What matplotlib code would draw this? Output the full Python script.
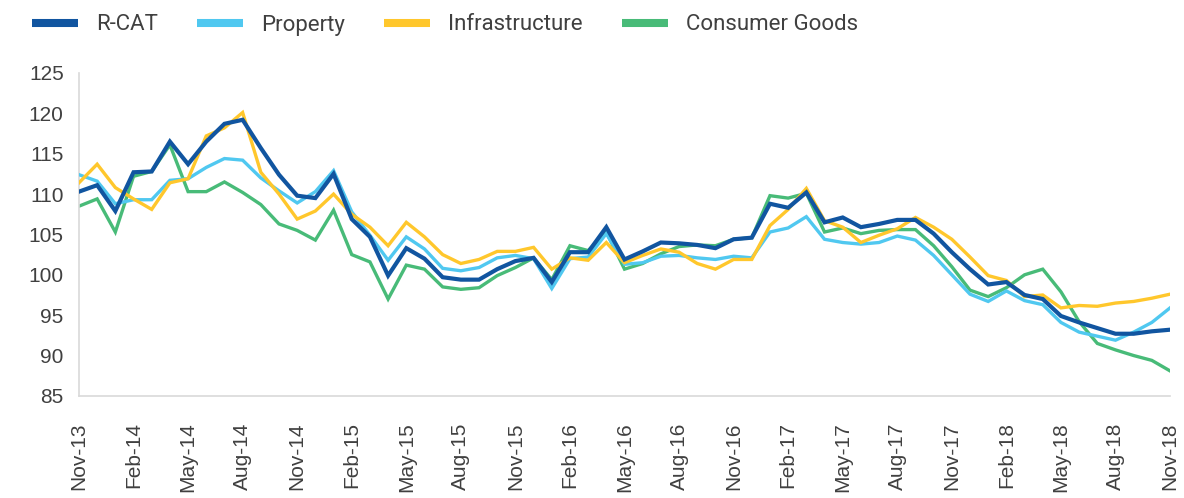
import matplotlib
matplotlib.use('Agg')
import matplotlib.pyplot as plt
import pandas as pd

# monthly index values, Nov-13 .. Nov-18
months = pd.date_range('2013-11-01', '2018-11-01', freq='MS').strftime('%b-%y').tolist()

r_cat = [110.3, 111.1, 107.9, 112.7, 112.8, 116.5, 113.7, 116.5, 118.7, 119.2,
         115.7, 112.4, 109.8, 109.5, 112.5, 106.9, 104.7, 99.9, 103.3, 102.0,
         99.7, 99.4, 99.4, 100.7, 101.7, 102.1, 99.1, 102.8, 102.8, 105.9,
         101.9, 102.9, 104.0, 103.9, 103.7, 103.3, 104.4, 104.6, 108.8, 108.3,
         110.2, 106.5, 107.1, 105.9, 106.3, 106.8, 106.8, 105.1, 102.8, 100.7,
         98.8, 99.1, 97.5, 97.0, 94.9, 94.1, 93.4, 92.7, 92.7, 93.0, 93.2]

prop = [112.4, 111.6, 108.8, 109.3, 109.3, 111.7, 111.9, 113.3, 114.4, 114.2,
        112.0, 110.4, 108.9, 110.3, 112.9, 107.8, 104.9, 101.8, 104.7, 103.2,
        100.8, 100.5, 100.9, 102.1, 102.4, 102.0, 98.3, 102.0, 102.2, 105.1,
        101.3, 101.5, 102.3, 102.4, 102.1, 101.9, 102.3, 102.1, 105.3, 105.8,
        107.2, 104.4, 104.0, 103.8, 104.0, 104.8, 104.3, 102.4, 100.0, 97.6,
        96.7, 98.0, 96.8, 96.3, 94.1, 92.9, 92.4, 91.9, 92.9, 94.1, 95.9]

infra = [111.4, 113.7, 110.8, 109.4, 108.1, 111.4, 111.9, 117.2, 118.2, 120.1,
         112.7, 110.0, 106.9, 107.9, 110.0, 107.5, 105.9, 103.6, 106.5, 104.7,
         102.5, 101.4, 101.9, 102.9, 102.9, 103.4, 100.7, 102.1, 101.8, 104.0,
         101.5, 102.4, 103.2, 102.8, 101.4, 100.7, 101.9, 101.9, 106.1, 108.1,
         110.7, 106.7, 105.9, 104.0, 104.9, 105.7, 107.1, 105.9, 104.4, 102.2,
         99.9, 99.3, 97.3, 97.5, 95.9, 96.2, 96.1, 96.5, 96.7, 97.1, 97.6]

consumer = [108.5, 109.4, 105.3, 112.2, 112.8, 116.1, 110.3, 110.3, 111.5, 110.2,
            108.7, 106.3, 105.5, 104.3, 108.0, 102.5, 101.6, 97.0, 101.2, 100.7,
            98.5, 98.2, 98.4, 99.9, 100.9, 102.1, 99.4, 103.6, 103.0, 105.3,
            100.7, 101.4, 102.6, 103.5, 103.7, 103.6, 104.4, 104.6, 109.8, 109.5,
            110.1, 105.3, 105.8, 105.1, 105.5, 105.6, 105.6, 103.6, 101.0, 98.1,
            97.3, 98.4, 100.0, 100.7, 97.9, 94.2, 91.5, 90.7, 90.0, 89.4, 88.1]

series = [
    ('R-CAT', r_cat, '#1155a0', 3.0, 5),
    ('Property', prop, '#50c8f0', 2.4, 3),
    ('Infrastructure', infra, '#ffc72c', 2.4, 4),
    ('Consumer Goods', consumer, '#48bb78', 2.4, 2),
]

plt.rcParams['font.family'] = ['Liberation Sans', 'DejaVu Sans']

fig = plt.figure(figsize=(11.84, 4.98), dpi=100)
ax = fig.add_axes([0.0667, 0.205, 0.9215, 0.6485])

x = list(range(len(months)))
for name, vals, col, lw, z in series:
    ax.plot(x, vals, color=col, lw=lw, label=name, zorder=z, solid_joinstyle='miter')

ax.set_xlim(0, len(months) - 1)
ax.set_ylim(85, 125)
ax.set_yticks(range(85, 126, 5))
ax.set_xticks(x[::3])
ax.set_xticklabels(months[::3], rotation=90)
ax.tick_params(length=0, labelsize=15, colors='#404040')
ax.tick_params(axis='y', pad=11)
ax.tick_params(axis='x', pad=19)
for s in ['top', 'right']:
    ax.spines[s].set_visible(False)
for s in ['left', 'bottom']:
    ax.spines[s].set_color('#d9d9d9')
    ax.spines[s].set_linewidth(1.2)

handles, labels = ax.get_legend_handles_labels()
leg = fig.legend(handles, labels, loc='center left', bbox_to_anchor=(0.027, 1 - 25 / 498),
                 ncol=4, frameon=False, borderpad=0, borderaxespad=0,
                 prop={'family': ['Roboto', 'DejaVu Sans'], 'size': 16},
                 handlelength=2.07, handletextpad=0.82, columnspacing=1.75,
                 labelcolor='#404040')
for h in leg.legend_handles:
    h.set_linewidth(5.8)
    h.set_solid_capstyle('butt')

fig.savefig('out.png', dpi=100)
